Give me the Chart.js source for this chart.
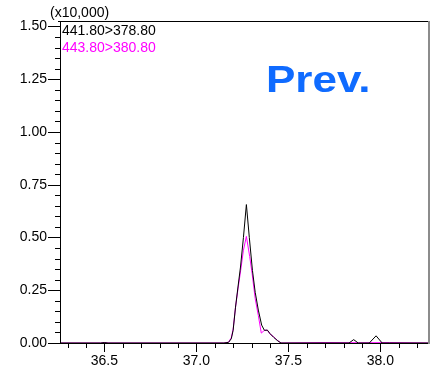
<!DOCTYPE html>
<html>
<head>
<meta charset="utf-8">
<script src="https://cdn.jsdelivr.net/npm/chart.js@4/dist/chart.umd.min.js"></script>
<style>
  html, body { margin: 0; padding: 0; background: #fff; }
  canvas { display: block; }
</style>
</head>
<body>
<canvas id="chrom" width="438" height="365"></canvas>
<script>
// Transition labels (precursor > product)
const seriesLabels = ['441.80>378.80', '443.80>380.80'];
const seriesColors = ['#000000', '#ff00ff'];

// Retention time (min) and intensity (x10,000) for 441.80>378.80
const timeA = [36.259, 36.48, 36.50, 36.52, 37.15, 37.175, 37.19, 37.20, 37.213, 37.227, 37.24, 37.256, 37.272,
               37.288, 37.305, 37.32, 37.337, 37.355, 37.37, 37.386, 37.40, 37.42, 37.44, 37.46,
               37.83, 37.855, 37.88, 37.94, 37.977, 38.01, 38.27];
const valueA = [0, 0, 0.002, 0, 0, 0.003, 0.02, 0.06, 0.17, 0.27, 0.36, 0.50, 0.656,
                0.50, 0.344, 0.24, 0.156, 0.085, 0.06, 0.061, 0.045, 0.027, 0.012, 0,
                0, 0.016, 0, 0, 0.034, 0, 0];

// Retention time (min) and intensity (x10,000) for 443.80>380.80
const timeB = [36.259, 36.48, 36.50, 36.52, 37.15, 37.175, 37.19, 37.20, 37.213, 37.227, 37.241, 37.256, 37.272,
               37.29, 37.303, 37.32, 37.337, 37.353, 37.37, 37.386, 37.40, 37.42, 37.44, 37.46,
               37.70, 37.90, 38.05, 38.27];
const valueB = [0, 0, 0.002, 0, 0, 0.004, 0.025, 0.065, 0.17, 0.26, 0.344, 0.44, 0.505,
                0.41, 0.33, 0.21, 0.13, 0.047, 0.06, 0.061, 0.043, 0.03, 0.013, 0,
                0.002, 0.001, 0.002, 0];

// Axis ranges, labelled ticks and minor tick steps
const xRange = [36.259, 38.27];
const yRange = [0, 1.524];
const xMajorLabels = ['36.5', '37.0', '37.5', '38.0'];
const yMajorLabels = ['0.00', '0.25', '0.50', '0.75', '1.00', '1.25', '1.50'];
const xMinorStep = 0.1;
const yMinorStep = 0.05;
const yUnitLabel = '(x10,000)';
const badgeText = 'Prev.';

const FONT = '"Liberation Sans", Arial, sans-serif';

function toPoints(xs, ys) { return xs.map((x, i) => ({ x: x, y: ys[i] })); }
function stepValues(lo, hi, step) {
  const out = [];
  for (let k = Math.ceil(lo / step - 1e-9); k * step <= hi + 1e-9; k++) out.push(+(k * step).toFixed(4));
  return out;
}
const xMajorValues = xMajorLabels.map(Number);
const yMajorValues = yMajorLabels.map(Number);

const frame = {
  id: 'frame',
  afterDraw(chart) {
    const { ctx, chartArea: a, scales: { x, y } } = chart;
    const L = Math.round(a.left);
    const B = Math.round(a.bottom);
    const T = Math.round(a.top);
    const R = Math.round(a.right);
    ctx.save();
    ctx.fillStyle = '#000000';
    // axis lines and top edge, as 1px filled rects
    ctx.fillRect(L, T, 1, B - T + 1);
    ctx.fillRect(L, B, R - L, 1);
    ctx.fillRect(L - 2, T, R - L + 2, 1);
    // y tick marks, left of the axis
    stepValues(yRange[0], yRange[1], yMinorStep).forEach(v => {
      const major = yMajorValues.some(m => Math.abs(m - v) < 1e-6);
      const py = Math.round(y.getPixelForValue(v));
      const len = major ? 12 : 5;
      ctx.fillRect(L - len, py, len, 1);
    });
    // x tick marks, below the axis
    stepValues(xRange[0], xRange[1], xMinorStep).forEach(v => {
      const major = xMajorValues.some(m => Math.abs(m - v) < 1e-6);
      const px = Math.round(x.getPixelForValue(v));
      ctx.fillRect(px, B, 1, major ? 9 : 5);
    });

    // right edge
    ctx.fillStyle = '#8c8c8c';
    ctx.fillRect(R - 2, T, 2, B - T + 1);

    // unit label and transition labels
    ctx.font = '14px ' + FONT;
    ctx.textAlign = 'left';
    ctx.textBaseline = 'alphabetic';
    ctx.fillStyle = '#000000';
    ctx.fillText(yUnitLabel, 50, 17);
    seriesLabels.forEach((s, i) => {
      ctx.fillStyle = seriesColors[i];
      ctx.fillText(s, a.left + 2, 35 + i * 17);
    });

    // badge
    ctx.translate(266, 92);
    ctx.scale(1.19, 1);
    ctx.font = 'bold 37px ' + FONT;
    ctx.fillStyle = '#0f6bff';
    ctx.fillText(badgeText, 0, 0);
    ctx.restore();
  }
};

new Chart(document.getElementById('chrom'), {
  type: 'line',
  data: {
    datasets: [
      { label: seriesLabels[0], data: toPoints(timeA, valueA), borderColor: seriesColors[0], borderWidth: 1, pointRadius: 0, tension: 0, fill: false },
      { label: seriesLabels[1], data: toPoints(timeB, valueB), borderColor: seriesColors[1], borderWidth: 1, pointRadius: 0, tension: 0, fill: false }
    ]
  },
  options: {
    responsive: false,
    animation: false,
    devicePixelRatio: 1,
    layout: { padding: { top: 18.6, right: 8, left: 0, bottom: 0 } },
    plugins: { legend: { display: false }, tooltip: { enabled: false }, title: { display: false } },
    scales: {
      x: {
        type: 'linear',
        min: xRange[0],
        max: xRange[1],
        afterBuildTicks(s) { s.ticks = xMajorValues.map(v => ({ value: v })); },
        afterFit(s) { s.height = 22; },
        grid: { display: false, drawTicks: false },
        border: { display: false },
        ticks: {
          autoSkip: false,
          maxRotation: 0,
          padding: 10,
          color: '#000',
          font: { family: FONT, size: 14 },
          callback(v) { return v.toFixed(1); }
        }
      },
      y: {
        type: 'linear',
        min: yRange[0],
        max: yRange[1],
        afterBuildTicks(s) { s.ticks = yMajorValues.map(v => ({ value: v })); },
        afterFit(s) { s.width = 60; },
        grid: { display: false, drawTicks: false },
        border: { display: false },
        ticks: {
          autoSkip: false,
          padding: 13,
          color: '#000',
          font: { family: FONT, size: 14 },
          callback(v) { return v.toFixed(2); }
        }
      }
    }
  },
  plugins: [frame]
});
</script>
</body>
</html>
